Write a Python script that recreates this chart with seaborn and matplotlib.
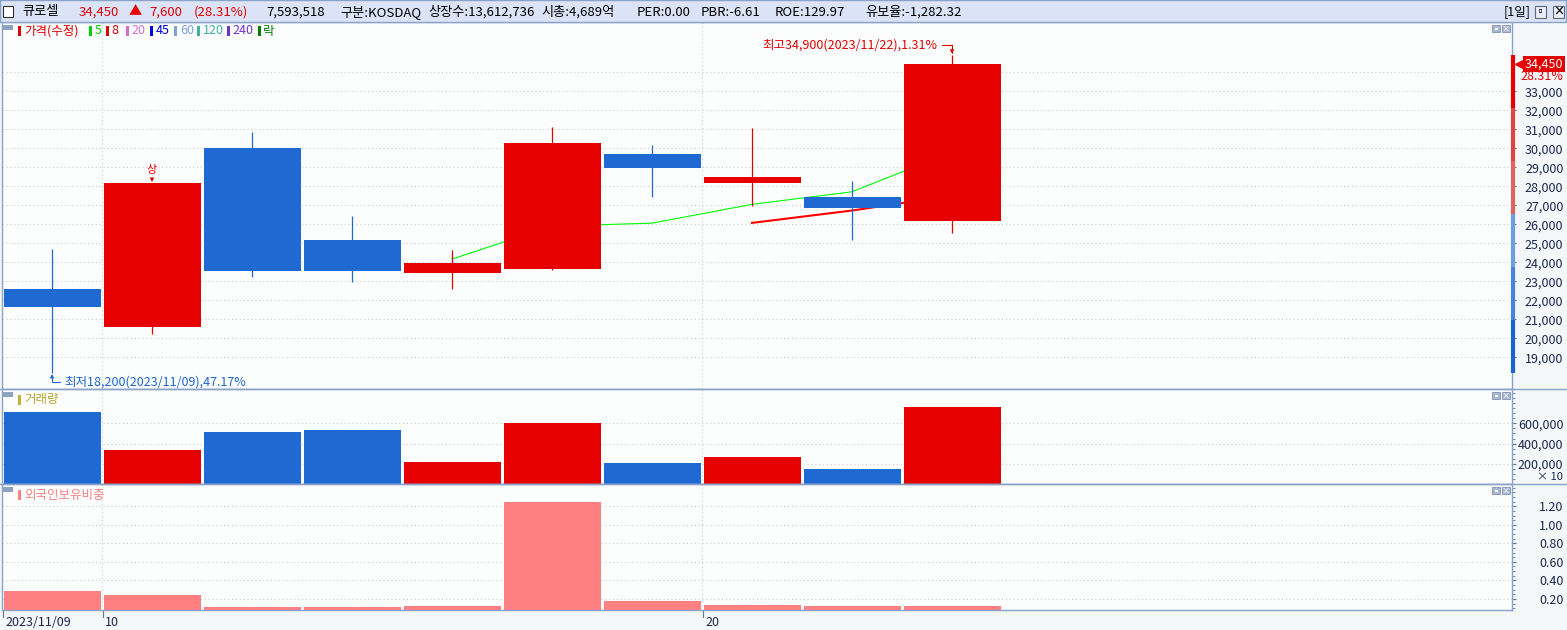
import numpy as np
import pandas as pd
import matplotlib
matplotlib.use('Agg')
import matplotlib.pyplot as plt
import matplotlib.transforms as mtransforms
from matplotlib.patches import Rectangle
from matplotlib.ticker import MultipleLocator, FixedLocator
import seaborn as sns

# daily candles (adjusted prices)
dates = ['2023/11/09', '2023/11/10', '2023/11/13', '2023/11/14', '2023/11/15',
         '2023/11/16', '2023/11/17', '2023/11/20', '2023/11/21', '2023/11/22']
opens = [22600, 20600, 30000, 25200, 23450, 23650, 29700, 28150, 27450, 26150]
highs = [24700, 28150, 30850, 26450, 24650, 31100, 30150, 31050, 28300, 34900]
lows = [18200, 20250, 23250, 22950, 22600, 23600, 27450, 26950, 25150, 25550]
closes = [21650, 28150, 23550, 23550, 23950, 30300, 28950, 28500, 26850, 34450]
volumes = [7120000, 3360000, 5140000, 5340000, 2180000, 6040000, 2080000, 2670000, 1480000, 7593518]
foreign_ratio = [0.29, 0.24, 0.11, 0.11, 0.12, 1.25, 0.18, 0.13, 0.12, 0.12]

stock_name = '큐로셀'
header_info = ['구분:KOSDAQ', '상장수:13,612,736', '시총:4,689억', 'PER:0.00',
               'PBR:-6.61', 'ROE:129.97', '유보율:-1,282.32']
legend_names = ['가격(수정)', '5', '8', '20', '45', '60', '120', '240', '락']
legend_colors = ['#e00000', '#00d000', '#e00000', '#d070d0', '#0000e0',
                 '#80a0d8', '#40b0a0', '#7030d0', '#008000']
price_ticks = list(range(19000, 34000, 1000))
vol_ticks = [200000, 400000, 600000]
foreign_ticks = [0.2, 0.4, 0.6, 0.8, 1.0, 1.2]

UP = '#e60000'
DOWN = '#1e69d2'
NAVY = '#1c2650'
FRAME = '#8aa2c8'
GRID = '#c4ccd6'

plt.rcParams['font.family'] = ['Noto Sans CJK KR', 'DejaVu Sans']

df = pd.DataFrame({'date': dates, 'open': opens, 'high': highs, 'low': lows,
                   'close': closes, 'volume': volumes, 'foreign': foreign_ratio})
df['idx'] = np.arange(len(df))
df['dir'] = np.where(df['close'] >= df['open'], 'up', 'down')
df['ma5'] = df['close'].rolling(5).mean()
df['ma8'] = df['close'].rolling(8).mean()
df['vol10'] = df['volume'] / 10

W, H = 1567, 630
fig = plt.figure(figsize=(W / 100, H / 100), dpi=100)
fig.patch.set_facecolor('#f3f7f7')


def add_pane(top, bottom):
    ax = fig.add_axes([2 / W, 1 - bottom / H, 1510 / W, (bottom - top) / H])
    ax.set_facecolor('#fcfefe')
    for s in ax.spines.values():
        s.set_color(FRAME)
        s.set_linewidth(1)
    return ax


ax_p = add_pane(22, 389)
ax_v = add_pane(389, 484)
ax_f = add_pane(484, 610)

xmin, xmax = -0.5, 14.6
tick_idx = [i for i, d in enumerate(dates) if i == 0 or int(d[-2:]) % 10 == 0]
tick_txt = [dates[i] if i == 0 else str(int(dates[i][-2:])) for i in tick_idx]

# ---- price pane
sns.lineplot(data=df, x='idx', y='ma5', color='#00ff00', linewidth=0.8, ax=ax_p, zorder=2)
sns.lineplot(data=df, x='idx', y='ma8', color='#ff0000', linewidth=1.5, ax=ax_p, zorder=2)
cols = np.where(df['dir'] == 'up', UP, DOWN)
ax_p.vlines(df['idx'], df['low'], df['high'], colors=cols, lw=0.9, zorder=3)
body_lo = df[['open', 'close']].min(axis=1)
body_h = (df['close'] - df['open']).abs()
ax_p.bar(df['idx'], body_h, bottom=body_lo, width=0.97, color=cols, zorder=4)
ax_p.set_ylim(17332, 36647)

# upper-limit marker
prev = df['close'].shift(1)
for i in df.index[(df['close'] / prev - 1) >= 0.295]:
    ax_p.annotate('상', xy=(i, df.loc[i, 'close']), xytext=(0, 6), textcoords='offset points',
                  ha='center', va='bottom', fontsize=8, color=UP,
                  arrowprops=dict(arrowstyle='-|>', color=UP, lw=0.8, mutation_scale=5,
                                  shrinkA=0, shrinkB=1))

last = df['close'].iloc[-1]
lo_i = df['low'].idxmin()
hi_i = df['high'].idxmax()
lo_v, hi_v = df['low'].min(), df['high'].max()
ax_p.annotate(f'최저{lo_v:,}({dates[lo_i]}),{(last - lo_v) / last * 100:.2f}%',
              xy=(lo_i, lo_v), xytext=(9, -6.5), textcoords='offset points',
              ha='left', va='center', fontsize=9, color='#1e64d0',
              arrowprops=dict(arrowstyle='-|>', color='#1e64d0', lw=0.8, mutation_scale=5,
                              shrinkA=1, shrinkB=1,
                              connectionstyle='angle,angleA=0,angleB=90,rad=0'))
ax_p.annotate(f'최고{hi_v:,}({dates[hi_i]}),{(hi_v - last) / last * 100:.2f}%',
              xy=(hi_i, hi_v), xytext=(-10.5, 7.5), textcoords='offset points',
              ha='right', va='center', fontsize=9, color=UP,
              arrowprops=dict(arrowstyle='-|>', color=UP, lw=0.8, mutation_scale=5,
                              shrinkA=1, shrinkB=1,
                              connectionstyle='angle,angleA=0,angleB=90,rad=0'))

# price band strip along the axis
band_cols = ['#e60000', '#e04444', '#e06262', '#6e9ce0', '#4a84dc', '#1e64d0']
edges = np.linspace(hi_v, lo_v, len(band_cols) + 1)
trans_p = mtransforms.blended_transform_factory(ax_p.transAxes, ax_p.transData)
for k, c in enumerate(band_cols):
    ax_p.plot([1.0007, 1.0007], [edges[k], edges[k + 1]], color=c, lw=3, transform=trans_p,
              clip_on=False, solid_capstyle='butt', zorder=6)

# last price marker
ax_p.plot([1.0045], [last], marker='<', color=UP, markersize=6, transform=trans_p,
          clip_on=False, zorder=7)
ax_p.text(1.0338, last, f'{last:,}', transform=trans_p, ha='right', va='center',
          fontsize=9, color='white', clip_on=False,
          bbox=dict(boxstyle='square,pad=0.12', fc=UP, ec='none'))
chg_pct = (last - df['close'].iloc[-2]) / df['close'].iloc[-2] * 100
ax_p.annotate(f'{chg_pct:.2f}%', xy=(1.0338, last), xycoords=trans_p, xytext=(0, -9.5),
              textcoords='offset points', ha='right', va='center', fontsize=9, color=UP,
              annotation_clip=False)

ax_p.set_yticks(price_ticks)
ax_p.set_yticklabels([f'{v:,}' for v in price_ticks])
ax_p.yaxis.set_major_locator(FixedLocator(price_ticks))
for v in range(19000, 35000, 1000):
    ax_p.axhline(v, color=GRID, lw=0.8, ls=(0, (1, 2.5)), zorder=0)

# ---- volume pane
sns.barplot(data=df, x='idx', y='vol10', hue='dir', palette={'up': UP, 'down': DOWN},
            native_scale=True, width=0.97, dodge=False, legend=False, saturation=1,
            errorbar=None, linewidth=0, ax=ax_v)
ax_v.set_ylim(0, 940000)
ax_v.set_yticks(vol_ticks)
ax_v.set_yticklabels([f'{v:,}' for v in vol_ticks])
ax_v.yaxis.set_minor_locator(MultipleLocator(50000))
for v in vol_ticks:
    ax_v.axhline(v, color=GRID, lw=0.8, ls=(0, (1, 2.5)), zorder=0)

# ---- foreign ownership pane
sns.barplot(data=df, x='idx', y='foreign', color='#ff8080', native_scale=True, width=0.97,
            saturation=1, errorbar=None, linewidth=0, ax=ax_f)
ax_f.set_ylim(0.08, 1.44)
ax_f.set_yticks(foreign_ticks)
ax_f.set_yticklabels([f'{v:.2f}' for v in foreign_ticks])
ax_f.yaxis.set_minor_locator(MultipleLocator(0.05))
for v in foreign_ticks:
    ax_f.axhline(v, color=GRID, lw=0.8, ls=(0, (1, 2.5)), zorder=0)

for ax in (ax_p, ax_v, ax_f):
    ax.set_xlim(xmin, xmax)
    ax.set_xticks([])
    ax.set_xlabel('')
    ax.set_ylabel('')
    ax.yaxis.tick_right()
    ax.tick_params(axis='y', which='major', length=3, width=0.8, color='#6078a8',
                   labelsize=9, labelcolor=NAVY, pad=34)
    ax.tick_params(axis='y', which='minor', length=2, width=0.6, color='#6078a8')
    for t in ax.get_yticklabels():
        t.set_horizontalalignment('right')
    for i in tick_idx[1:]:
        ax.axvline(i - 0.5, color=GRID, lw=0.8, ls=(0, (1, 2.5)), zorder=0)

# ---- overlay for window chrome, legends and date labels (pixel coords)
ov = fig.add_axes([0, 0, 1, 1], zorder=10)
ov.set_xlim(0, W)
ov.set_ylim(H, 0)
ov.axis('off')
ov.patch.set_alpha(0)

ov.add_patch(Rectangle((0, 0), W - 1, 22, fc='#dae4f6', ec=FRAME, lw=1))
ov.add_patch(Rectangle((3, 6), 10, 11, fc='white', ec='#303030', lw=0.8))
prev_close = df['close'].iloc[-2]
head = [(22, stock_name, 'black'), (79, f'{last:,}', UP), (129, '▲', UP),
        (149, f'{last - prev_close:,}', UP), (194, f'({chg_pct:.2f}%)', UP),
        (266, f'{volumes[-1]:,}', 'black')]
info_x = [340, 424, 534, 637, 701, 775, 865]
head += [(x, s, 'black') for x, s in zip(info_x, header_info)]
renderer = fig.canvas.get_renderer()
cursor = 0
for x, s, c in head:
    x0 = max(x, cursor + 7)
    t = ov.text(x0, 12, s, color=c, fontsize=9.5, va='center', ha='left')
    cursor = x0 + t.get_window_extent(renderer).width
ov.text(1531, 12, '[1일]', color='black', fontsize=9, va='center', ha='right')
for bx, mark in [(1535, '▫'), (1553, '×')]:
    ov.add_patch(Rectangle((bx, 6), 11, 12, fc='#e8eef8', ec='#606878', lw=0.8))
    ov.text(bx + 5.5, 12, mark, fontsize=8, ha='center', va='center', color='black',
            fontweight='bold')

# pane headers
for top in (22, 389, 484):
    ov.add_patch(Rectangle((3, top + 3), 10, 5, fc='#8ea2c2', ec='none'))
    for bx in (1492, 1502):
        ov.add_patch(Rectangle((bx, top + 3), 8, 7, fc='#a8b8d0', ec='#8090b0', lw=0.6))
    ov.add_patch(Rectangle((1494.5, top + 5.5), 3, 2, fc='white', ec='none'))
    ov.text(1506, top + 6.5, '×', fontsize=6, color='white', ha='center', va='center')

leg_x = [(18, 24), (89, 95), (106, 111), (126, 131), (150, 156), (174, 180), (197, 203),
         (227, 232), (258, 263)]
for (mx, tx), name, c in zip(leg_x, legend_names, legend_colors):
    ov.add_patch(Rectangle((mx, 26), 2.5, 10, fc=c, ec='none'))
    ov.text(tx, 31, name, color=c, fontsize=9, va='center', ha='left')

ov.add_patch(Rectangle((18, 395), 2.5, 10, fc='#c0b040', ec='none'))
ov.text(24, 400, '거래량', color='#b8a830', fontsize=9, va='center', ha='left')
ov.add_patch(Rectangle((18, 490), 2.5, 10, fc='#ff8080', ec='none'))
ov.text(24, 495, '외국인보유비중', color='#ff8080', fontsize=9, va='center', ha='left')
ov.text(1563, 476.5, '× 10', color=NAVY, fontsize=8, va='center', ha='right')

# chrome lines
ov.plot([0, W], [389, 389], color=FRAME, lw=1)
ov.plot([0, W], [484, 484], color=FRAME, lw=1)

# date axis
for i, s in zip(tick_idx, tick_txt):
    px = 2 + (i - 0.5 - xmin) * 100 + 1
    ov.plot([px, px], [611, 617], color='#6078a8', lw=0.8)
    ov.text(px + 2, 622, s, color=NAVY, fontsize=9, va='center', ha='left')

fig.savefig('out.png', dpi=100, facecolor=fig.get_facecolor())
